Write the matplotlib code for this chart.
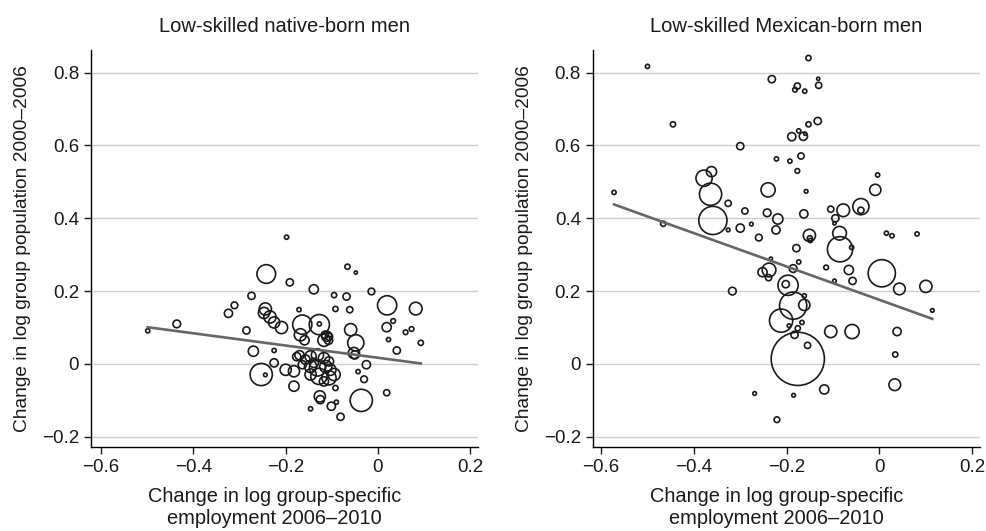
import matplotlib
matplotlib.use("Agg")
import matplotlib.pyplot as plt
from matplotlib.ticker import FuncFormatter
import numpy as np

plt.rcParams['font.family'] = ['Liberation Sans', 'DejaVu Sans']

# ---- data ----
# left panel: low-skilled native-born men
left_x = [-0.499, -0.436, -0.242, -0.198, -0.191, -0.139, -0.066, -0.048, -0.274, -0.311,
          -0.324, -0.244, -0.247, -0.234, -0.225, -0.209, -0.171, -0.164, -0.127, -0.127,
          -0.092, -0.061, -0.059, -0.048, -0.052, -0.050, -0.285, -0.168, -0.159, -0.115,
          -0.111, -0.106, -0.117, -0.107, -0.270, -0.225, -0.225, -0.176, -0.170, -0.200,
          -0.182, -0.253, -0.244, -0.157, -0.146, -0.131, -0.117, -0.106, -0.146, -0.131,
          -0.113, -0.103, -0.146, -0.128, -0.106, -0.095, -0.117, -0.164, -0.139, -0.182,
          -0.092, -0.126, -0.125, -0.101, -0.090, -0.146, -0.081, -0.036, -0.025, -0.043,
          -0.030, -0.014, -0.068, 0.020, 0.082, 0.019, 0.033, 0.060, 0.073, 0.023,
          0.041, 0.093, 0.019, -0.095]
left_y = [0.091, 0.110, 0.247, 0.348, 0.224, 0.205, 0.267, 0.251, 0.187, 0.161,
          0.139, 0.151, 0.140, 0.129, 0.114, 0.100, 0.149, 0.108, 0.108, 0.110,
          0.151, 0.149, 0.094, 0.058, 0.030, 0.025, 0.092, 0.080, 0.065, 0.080,
          0.076, 0.075, 0.065, 0.065, 0.035, 0.037, 0.003, 0.020, 0.024, -0.016,
          -0.020, -0.029, -0.030, 0.012, 0.021, 0.025, 0.016, 0.007, -0.007, -0.011,
          -0.007, -0.016, -0.029, -0.034, -0.038, -0.029, -0.048, -0.002, 0.003, -0.061,
          -0.066, -0.089, -0.098, -0.116, -0.105, -0.123, -0.145, -0.100, -0.002, -0.021,
          -0.042, 0.199, 0.185, 0.161, 0.152, 0.101, 0.118, 0.087, 0.096, 0.067,
          0.037, 0.058, -0.079, 0.189]
left_wt = [25, 72, 380, 25, 64, 100, 36, 16, 64, 56,
           81, 169, 144, 169, 144, 169, 25, 400, 441, 25,
           36, 49, 169, 289, 144, 81, 64, 169, 100, 64,
           121, 64, 169, 81, 121, 25, 81, 81, 100, 144,
           144, 529, 20, 100, 144, 169, 144, 100, 169, 289,
           169, 144, 144, 289, 225, 169, 100, 81, 100, 121,
           36, 144, 81, 81, 25, 25, 64, 529, 81, 25,
           56, 56, 64, 400, 182, 100, 30, 30, 30, 25,
           64, 36, 49, 36]
left_fit = (0.017, -0.168)   # intercept, slope of the weighted fit line

# right panel: low-skilled Mexican-born men
right_x = [-0.500, -0.153, -0.232, -0.177, -0.182, -0.161, -0.132, -0.131, -0.445, -0.133,
           -0.153, -0.174, -0.160, -0.164, -0.189, -0.300, -0.222, -0.193, -0.169, -0.177,
           -0.004, -0.572, -0.378, -0.362, -0.364, -0.359, -0.240, -0.158, -0.009, -0.326,
           -0.290, -0.242, -0.219, -0.163, -0.105, -0.078, -0.040, -0.040, -0.095, -0.466,
           -0.276, -0.300, -0.326, -0.260, -0.223, -0.179, -0.174, -0.151, -0.150, -0.149,
           -0.086, -0.085, -0.060, -0.097, 0.015, 0.027, 0.081, -0.115, -0.066, -0.058,
           -0.097, 0.005, 0.043, 0.100, 0.114, -0.252, -0.238, -0.239, -0.234, -0.186,
           -0.317, -0.202, -0.197, -0.186, -0.162, -0.162, -0.212, -0.195, -0.167, -0.176,
           -0.183, -0.155, -0.105, -0.059, 0.038, 0.034, -0.176, -0.119, 0.033, -0.269,
           -0.185, -0.221]
right_y = [0.817, 0.840, 0.782, 0.763, 0.753, 0.749, 0.783, 0.765, 0.658, 0.667,
           0.658, 0.640, 0.632, 0.625, 0.624, 0.598, 0.563, 0.557, 0.571, 0.530,
           0.519, 0.471, 0.510, 0.528, 0.466, 0.394, 0.478, 0.474, 0.478, 0.441,
           0.420, 0.415, 0.398, 0.412, 0.425, 0.422, 0.432, 0.422, 0.400, 0.385,
           0.384, 0.373, 0.368, 0.347, 0.368, 0.318, 0.280, 0.353, 0.345, 0.339,
           0.359, 0.315, 0.320, 0.386, 0.359, 0.352, 0.357, 0.265, 0.258, 0.228,
           0.228, 0.249, 0.206, 0.213, 0.147, 0.252, 0.258, 0.237, 0.289, 0.262,
           0.200, 0.219, 0.216, 0.160, 0.162, 0.187, 0.119, 0.105, 0.114, 0.098,
           0.080, 0.051, 0.089, 0.089, 0.089, 0.026, 0.014, -0.070, -0.057, -0.081,
           -0.086, -0.153]
right_wt = [25, 36, 64, 49, 30, 25, 16, 49, 36, 64,
            36, 25, 16, 81, 81, 64, 25, 25, 49, 30,
            25, 25, 289, 121, 529, 841, 225, 20, 144, 49,
            49, 72, 121, 81, 49, 182, 289, 49, 64, 36,
            20, 81, 20, 56, 81, 64, 25, 169, 36, 25,
            210, 676, 25, 16, 25, 25, 25, 30, 100, 64,
            20, 784, 156, 169, 20, 100, 210, 49, 16, 72,
            72, 64, 441, 784, 144, 25, 576, 20, 25, 36,
            64, 49, 169, 225, 81, 36, 2916, 100, 156, 20,
            20, 42]
right_fit = (0.176, -0.458)

titles = ["Low-skilled native-born men", "Low-skilled Mexican-born men"]
yticks = [-0.2, 0, 0.2, 0.4, 0.6, 0.8]
xticks = [-0.6, -0.4, -0.2, 0, 0.2]


def fmt(v, pos):
    s = '%g' % round(v, 2)
    return s.replace('-', '\u2212')


def panel(ax, x, y, wt, fit, title, xlim):
    x = np.array(x)
    y = np.array(y)
    wt = np.array(wt, dtype=float)
    # area proportional to weight, minus the stroke width
    s = (0.72 * (np.sqrt(wt) - 0.8)) ** 2
    ax.scatter(x, y, s=s, facecolors='none', edgecolors='#1a1a1a', linewidths=1.2, zorder=3)
    xs = np.array([x.min(), x.max()])
    ax.plot(xs, fit[0] + fit[1] * xs, color='#666666', lw=1.9, zorder=4)
    ax.set_xlim(*xlim)
    ax.set_ylim(-0.228, 0.862)
    ax.set_yticks(yticks)
    ax.set_xticks(xticks)
    ax.xaxis.set_major_formatter(FuncFormatter(fmt))
    ax.yaxis.set_major_formatter(FuncFormatter(fmt))
    ax.grid(axis='y', color='#cfcfcf', lw=1.0)
    ax.set_axisbelow(True)
    for side in ['top', 'right']:
        ax.spines[side].set_visible(False)
    for side in ['left', 'bottom']:
        ax.spines[side].set_linewidth(1.0)
    ax.tick_params(labelsize=13.5, length=5, width=1.0, direction='out', colors='#1a1a1a')
    ax.set_title(title, fontsize=14.5, pad=13, color='#1a1a1a')
    ax.set_xlabel("Change in log group-specific\nemployment 2006\u20132010", fontsize=14.4,
                  linespacing=1.22, color='#1a1a1a')
    ax.xaxis.set_label_coords(0.475, -0.100)
    ax.set_ylabel("Change in log group population 2000\u20132006", fontsize=13.8,
                  labelpad=8, color='#1a1a1a')


fig = plt.figure(figsize=(9.87, 5.31), dpi=100)
ax1 = fig.add_axes([0.0922, 0.1582, 0.3921, 0.7476])
ax2 = fig.add_axes([0.6005, 0.1582, 0.3921, 0.7476])
panel(ax1, left_x, left_y, left_wt, left_fit, titles[0], (-0.622, 0.217))
panel(ax2, right_x, right_y, right_wt, right_fit, titles[1], (-0.618, 0.216))

fig.savefig('out.png', dpi=100)
